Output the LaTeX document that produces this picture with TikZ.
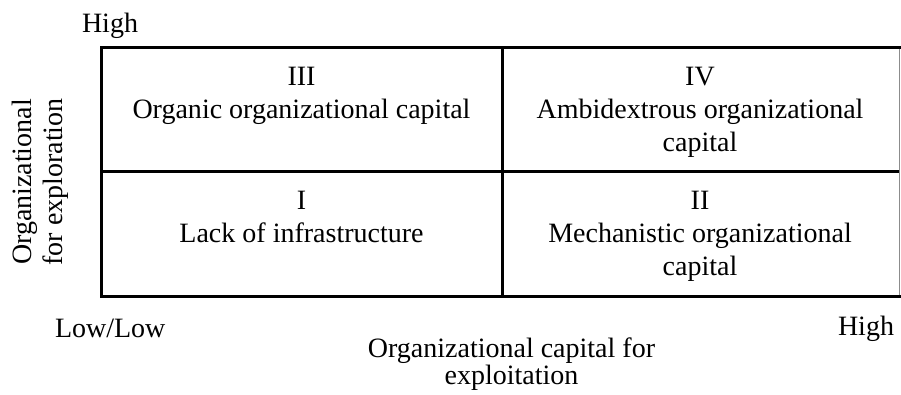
\documentclass[tikz,border=0pt]{standalone}
\usepackage{fontspec}
\setmainfont{Liberation Serif}
\begin{document}
\begin{tikzpicture}[x=1pt,y=-1pt,
  gridline/.style={line width=3pt,draw=black,line join=miter},
  edgeline/.style={line width=1pt,draw=black!45},
  lbl/.style={inner sep=0pt,outer sep=0pt,font=\fontsize{28}{33}\selectfont},
  quad/.style={lbl,anchor=base},
]
\useasboundingbox[fill=white] (0,0) rectangle (901,394);
% grid coordinates
\coordinate (tl) at (101.5,47.5);
\coordinate (bl) at (101.5,296);
\coordinate (trr) at (901,47.5);
\coordinate (brr) at (901,296);
\coordinate (ml) at (101.5,171.5);
\coordinate (mr) at (899,171.5);
\coordinate (mt) at (502,47.5);
\coordinate (mb) at (502,296);
\coordinate (rt) at (899.5,47.5);
\coordinate (rb) at (899.5,296);
\draw[edgeline] (rt) -- (rb);
\draw[gridline] (trr) -| (bl) -- (brr);
\draw[gridline] (ml) -- (mr);
\draw[gridline] (mt) -- (mb);
% quadrant labels
\node[quad] (q3) at (301.5,85) {\begin{tabular}[t]{@{}c@{}}III\\Organic organizational capital\end{tabular}};
\node[quad] (q4) at (700,85) {\begin{tabular}[t]{@{}c@{}}IV\\Ambidextrous organizational\\capital\end{tabular}};
\node[quad] (q1) at (301.5,209) {\begin{tabular}[t]{@{}c@{}}I\\Lack of infrastructure\end{tabular}};
\node[quad] (q2) at (700,209) {\begin{tabular}[t]{@{}c@{}}II\\Mechanistic organizational\\capital\end{tabular}};
% axis labels
\node[lbl,anchor=base west] (hightop) at (82,32) {High};
\node[lbl,anchor=base west] (lowlow) at (55,337) {Low/Low};
\node[lbl,anchor=base west] (highright) at (838,335) {High};
\node[lbl,anchor=base,font=\fontsize{28}{27.5}\selectfont] (xlabel) at (511.5,357) {\begin{tabular}[t]{@{}c@{}}Organizational capital for\\exploitation\end{tabular}};
\node[lbl,anchor=base,rotate=90,font=\fontsize{28}{30.6}\selectfont] (ylabel) at (31.7,182) {\begin{tabular}[t]{@{}c@{}}Organizational\\for exploration\end{tabular}};
\end{tikzpicture}
\end{document}
